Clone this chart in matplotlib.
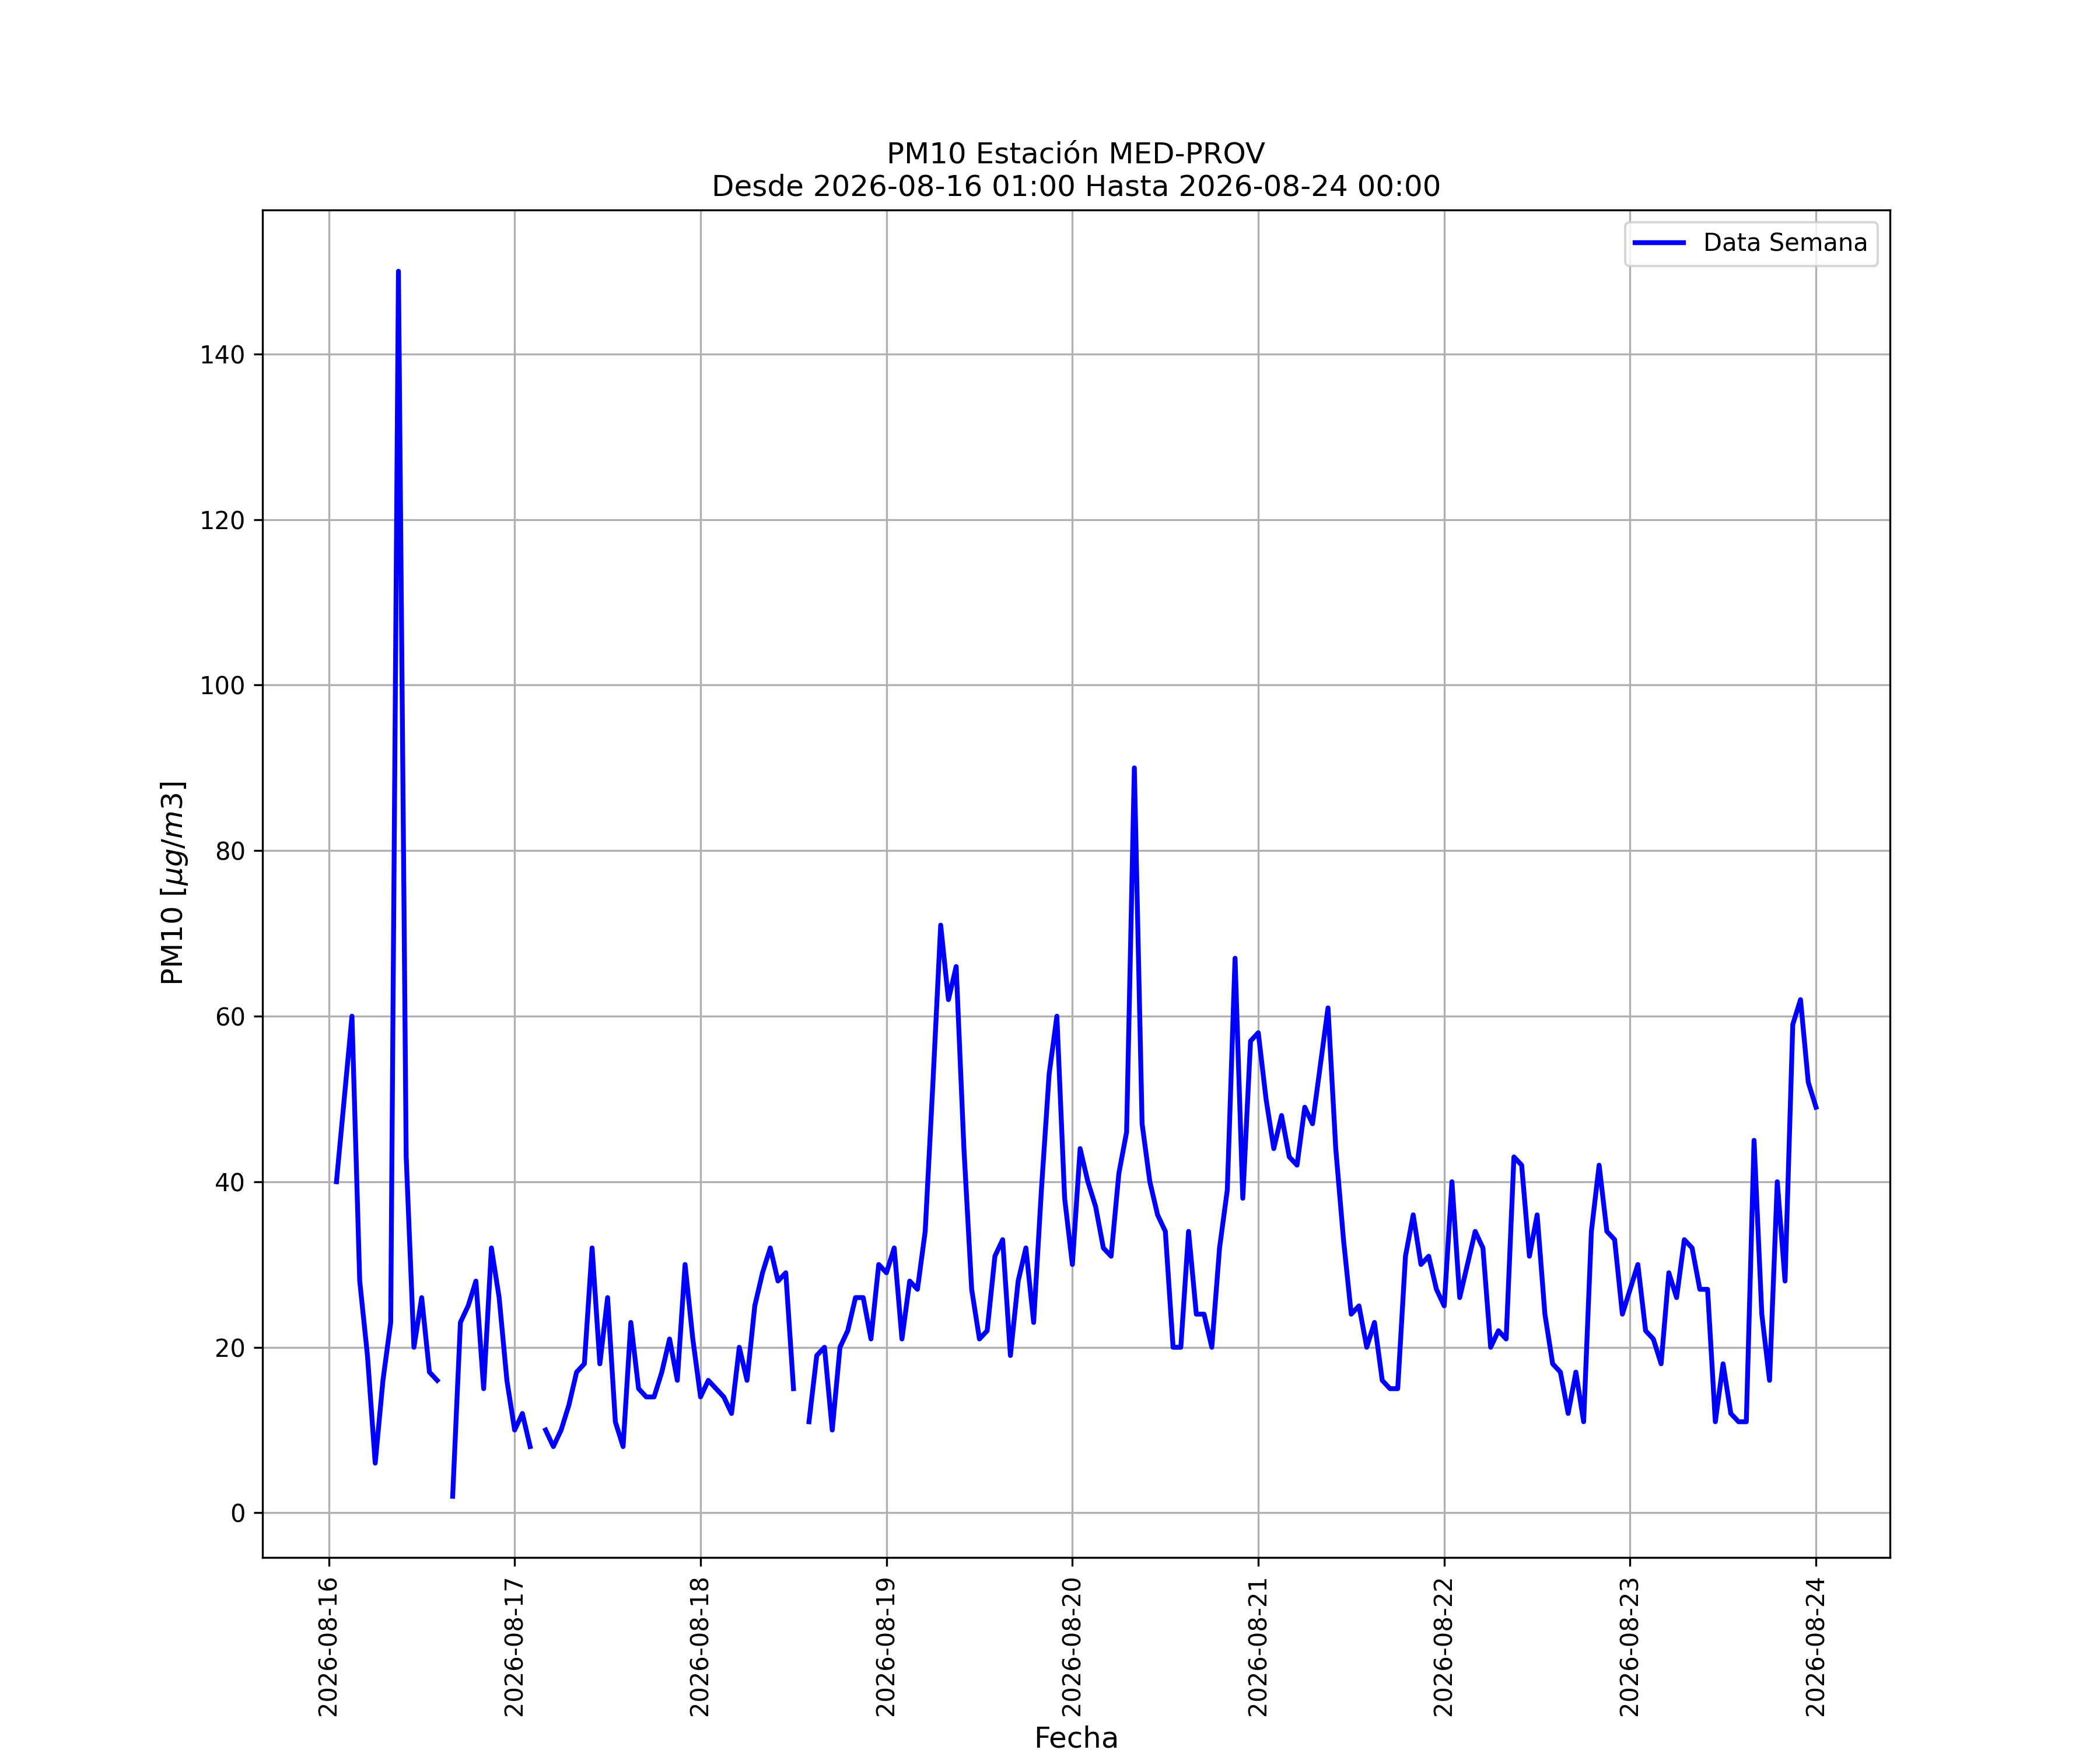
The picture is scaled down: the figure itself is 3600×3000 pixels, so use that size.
import numpy as np
import pandas as pd
import matplotlib
matplotlib.use("Agg")
import matplotlib.pyplot as plt
import matplotlib.dates as mdates

nan = np.nan

# PM10 horario, un bloque de 24 valores por dia (01:00 ... 00:00 del dia siguiente)
dia_16 = [40, 50, 60, 28, 19, 6, 16, 23, 150, 43, 20, 26, 17, 16, nan, 2,
          23, 25, 28, 15, 32, 26, 16, 10]
dia_17 = [12, 8, nan, 10, 8, 10, 13, 17, 18, 32, 18, 26, 11, 8, 23, 15,
          14, 14, 17, 21, 16, 30, 21, 14]
dia_18 = [16, 15, 14, 12, 20, 16, 25, 29, 32, 28, 29, 15, nan, 11, 19, 20,
          10, 20, 22, 26, 26, 21, 30, 29]
dia_19 = [32, 21, 28, 27, 34, 52, 71, 62, 66, 44, 27, 21, 22, 31, 33, 19,
          28, 32, 23, 39, 53, 60, 38, 30]
dia_20 = [44, 40, 37, 32, 31, 41, 46, 90, 47, 40, 36, 34, 20, 20, 34, 24,
          24, 20, 32, 39, 67, 38, 57, 58]
dia_21 = [50, 44, 48, 43, 42, 49, 47, 54, 61, 44, 33, 24, 25, 20, 23, 16,
          15, 15, 31, 36, 30, 31, 27, 25]
dia_22 = [40, 26, 30, 34, 32, 20, 22, 21, 43, 42, 31, 36, 24, 18, 17, 12,
          17, 11, 34, 42, 34, 33, 24, 27]
dia_23 = [30, 22, 21, 18, 29, 26, 33, 32, 27, 27, 11, 18, 12, 11, 11, 45,
          24, 16, 40, 28, 59, 62, 52, 49]

inicio = "2026-08-16 01:00"
fin = "2026-08-24 00:00"

valores = dia_16 + dia_17 + dia_18 + dia_19 + dia_20 + dia_21 + dia_22 + dia_23
fechas = pd.date_range(inicio, fin, freq="h")

fig = plt.figure(figsize=(12, 10), dpi=300)
ax = fig.add_subplot(111)
ax.plot(fechas, valores, color="blue", linewidth=2, label="Data Semana")

ax.xaxis.set_major_locator(mdates.DayLocator())
ax.xaxis.set_major_formatter(mdates.DateFormatter("%Y-%m-%d"))
plt.xticks(rotation=90)

ax.set_title("PM10 Estación MED-PROV\nDesde " + inicio + " Hasta " + fin, fontsize=12)
ax.set_xlabel("Fecha", fontsize=12)
ax.set_ylabel(r"PM10 [$\mu g/m3$]", fontsize=12)
ax.grid(True)
ax.legend(loc="upper right")

fig.savefig("out.png", dpi=300)
